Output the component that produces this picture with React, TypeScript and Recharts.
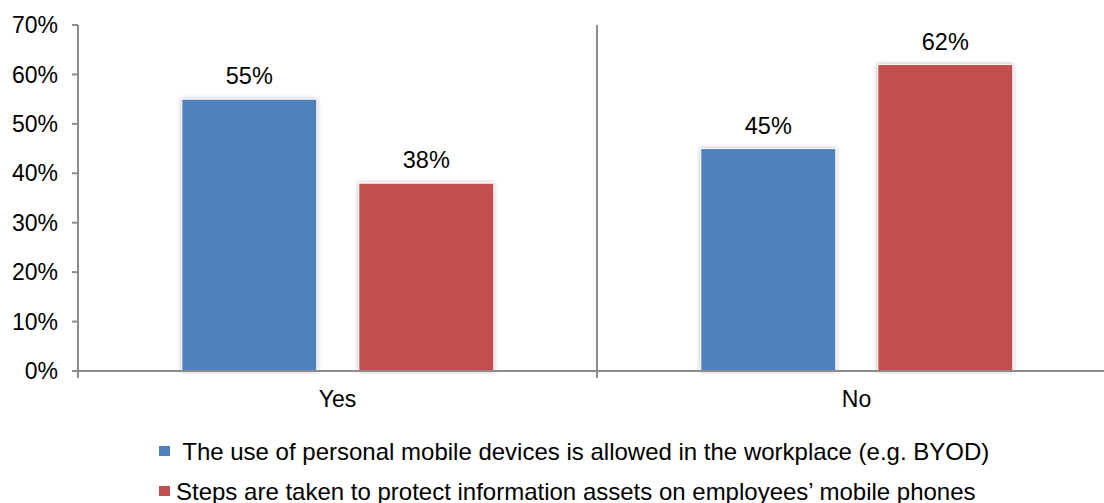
import React from 'react';
import { BarChart, Bar, XAxis, YAxis, CartesianGrid, Legend, LabelList, Rectangle } from 'recharts';

const categories = ['Yes', 'No'];
const byodValues = [55, 45];
const protectValues = [38, 62];
const seriesNames = [
  ' The use of personal mobile devices is allowed in the workplace (e.g. BYOD)',
  'Steps are taken to protect information assets on employees\u2019 mobile phones',
];
const seriesColors = ['#4F81BD', '#C0504D'];
const yTicks = [0, 10, 20, 30, 40, 50, 60, 70];

const data = categories.map((c, i) => ({ category: c, byod: byodValues[i], protect: protectValues[i] }));

const FONT = "'Liberation Sans', Arial, sans-serif";
const AXIS = '#8c8c8c';

const BarShape = (props: any) => <Rectangle {...props} filter="url(#barShadow)" />;

const LegendContent = (props: any) => {
  const payload = props.payload || [];
  return (
    <div style={{ fontFamily: FONT, fontSize: 24, color: '#000' }}>
      {payload.map((item: any, i: number) => (
        <div key={i} style={{ display: 'flex', alignItems: 'center', height: i === 0 ? 42 : 38, whiteSpace: 'pre', lineHeight: '27px' }}>
          <span style={{ display: 'inline-block', width: 11, height: 10, background: item.color, marginRight: 6 }} />
          <span>{item.value}</span>
        </div>
      ))}
    </div>
  );
};

export default function App() {
  return (
    <div style={{ position: 'absolute', left: 0, top: 0, width: 1104, height: 503, overflow: 'hidden', background: '#fff', fontFamily: FONT }}>
      <BarChart
        width={1130}
        height={503}
        data={data}
        margin={{ top: 25, right: 14, bottom: 92, left: 0 }}
        barCategoryGap="20%"
        barGap={42}
      >
        <defs>
          <filter id="barShadow" x="-10%" y="-10%" width="120%" height="120%">
            <feDropShadow dx="0" dy="0" stdDeviation="2" floodColor="#000" floodOpacity="0.3" />
          </filter>
        </defs>
        <CartesianGrid
          horizontal={false}
          verticalCoordinatesGenerator={(args: any) => {
            const off = args && args.offset ? args.offset : { left: 78, width: 1038 };
            return categories.map((_, i) => off.left + (i * off.width) / categories.length);
          }}
          vertical={(p: any) => (
            <line key={`v-${p.index}-${p.x1}`} x1={p.x1} x2={p.x2} y1={p.y1} y2={p.y2 + 7} stroke={AXIS} strokeWidth={2} />
          )}
        />
        <XAxis
          dataKey="category"
          height={40}
          axisLine={{ stroke: AXIS, strokeWidth: 2 }}
          tickLine={false}
          tickSize={0}
          tickMargin={20}
          tick={{ fill: '#000', fontSize: 23, fontFamily: FONT }}
        />
        <YAxis
          width={78}
          domain={[0, 70]}
          ticks={yTicks}
          interval={0}
          tickFormatter={(v: number) => `${v}%`}
          axisLine={{ stroke: AXIS, strokeWidth: 2 }}
          tickLine={{ stroke: AXIS, strokeWidth: 2 }}
          tickSize={6}
          tickMargin={14}
          tick={{ fill: '#000', fontSize: 23, fontFamily: FONT }}
        />
        <Legend
          layout="vertical"
          align="center"
          verticalAlign="middle"
          wrapperStyle={{ left: 159, top: 430, width: 940 }}
          content={<LegendContent />}
        />
        <Bar dataKey="byod" name={seriesNames[0]} fill={seriesColors[0]} stroke="#fff" strokeWidth={1} shape={BarShape} isAnimationActive={false}>
          <LabelList dataKey="byod" position="top" offset={15} formatter={(v: any) => `${v}%`} style={{ fill: '#000', fontSize: 23.5, fontFamily: FONT }} />
        </Bar>
        <Bar dataKey="protect" name={seriesNames[1]} fill={seriesColors[1]} stroke="#fff" strokeWidth={1} shape={BarShape} isAnimationActive={false}>
          <LabelList dataKey="protect" position="top" offset={15} formatter={(v: any) => `${v}%`} style={{ fill: '#000', fontSize: 23.5, fontFamily: FONT }} />
        </Bar>
      </BarChart>
    </div>
  );
}
